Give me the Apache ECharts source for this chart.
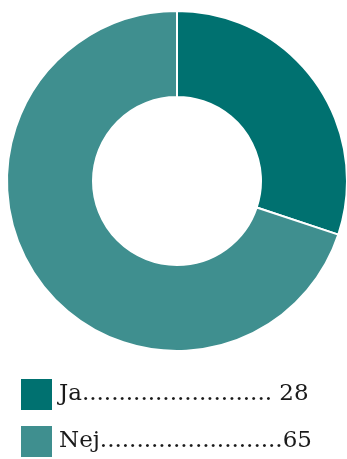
<!DOCTYPE html>
<html>
<head>
<meta charset="utf-8">
<script src="https://cdn.jsdelivr.net/npm/echarts@6/dist/echarts.min.js"></script>
<style>
  html, body { margin: 0; padding: 0; background: #ffffff; }
  #chart { width: 347px; height: 459px; }
</style>
</head>
<body>
<div id="chart"></div>
<script>
  // data
  const labels = ['Ja', 'Nej'];
  const values = [28, 65];
  const colors = ['#007170', '#3f8f8f'];
  const dotCount = { Ja: 26, Nej: 25 };   // leader dots in the legend
  const gapAfterDots = { Ja: ' ', Nej: '' };

  const chart = echarts.init(document.getElementById('chart'));

  // one legend per row so nothing wraps
  const legendTops = [377, 424];
  const legends = labels.map((name, k) => ({
    orient: 'vertical',
    left: 19,
    top: legendTops[k],
    padding: 0,
    itemWidth: 33,
    itemHeight: 33,
    icon: 'rect',
    data: [name],
    formatter: function (n) {
      const i = labels.indexOf(n);
      return n + '.'.repeat(dotCount[n]) + gapAfterDots[n] + values[i];
    },
    textStyle: {
      fontFamily: 'DejaVu Serif',
      fontSize: 23,
      color: '#1a1a1a',
      padding: [4, 0, 0, 1]
    }
  }));

  const option = {
    animation: false,
    color: colors,
    legend: legends,
    series: [{
      type: 'pie',
      center: [177, 181],
      radius: [84, 170],
      startAngle: 90,
      label: { show: false },
      labelLine: { show: false },
      itemStyle: { borderColor: '#ffffff', borderWidth: 2 },
      data: labels.map((n, i) => ({ name: n, value: values[i] }))
    }]
  };

  chart.setOption(option);
</script>
</body>
</html>
